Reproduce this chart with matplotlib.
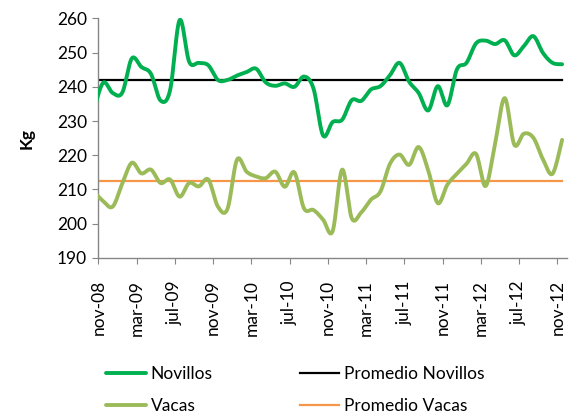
import numpy as np
import matplotlib
matplotlib.use('Agg')
import matplotlib.pyplot as plt
from matplotlib.transforms import ScaledTranslation
from matplotlib import rc
rc('font', family=['Lato', 'DejaVu Sans'])
rc('font', size=12.5)

#---------------data (oct-08 .. nov-12, monthly) ---------------
meses = ['oct-08',
         'nov-08', 'dic-08',
         'ene-09', 'feb-09', 'mar-09', 'abr-09', 'may-09', 'jun-09',
         'jul-09', 'ago-09', 'sep-09', 'oct-09', 'nov-09', 'dic-09',
         'ene-10', 'feb-10', 'mar-10', 'abr-10', 'may-10', 'jun-10',
         'jul-10', 'ago-10', 'sep-10', 'oct-10', 'nov-10', 'dic-10',
         'ene-11', 'feb-11', 'mar-11', 'abr-11', 'may-11', 'jun-11',
         'jul-11', 'ago-11', 'sep-11', 'oct-11', 'nov-11', 'dic-11',
         'ene-12', 'feb-12', 'mar-12', 'abr-12', 'may-12', 'jun-12',
         'jul-12', 'ago-12', 'sep-12', 'oct-12', 'nov-12']

novillos = [233.0,
            241.2, 238.2,
            238.3, 248.3, 245.8, 243.8, 236.0, 239.0,
            259.5, 247.3, 247.0, 246.3, 242.0, 242.0,
            243.3, 244.3, 245.3, 241.3, 240.3, 241.0,
            240.0, 243.0, 239.5, 225.8, 229.7, 230.4,
            236.1, 235.9, 239.2, 240.2, 243.4, 247.0,
            241.5, 238.2, 233.1, 240.2, 234.6, 245.1,
            247.0, 252.7, 253.5, 252.5, 253.6, 249.2,
            251.9, 254.8, 249.9, 247.0, 246.6]

vacas = [209.5,
         206.6, 205.0,
         211.7, 217.8, 214.7, 215.8, 211.9, 212.9,
         207.9, 211.9, 210.9, 212.9, 205.0, 204.3,
         218.7, 215.2, 213.8, 213.3, 215.2, 210.8,
         215.0, 204.5, 204.0, 201.2, 197.8, 215.8,
         201.6, 203.3, 207.0, 209.4, 217.5, 220.2,
         217.2, 222.4, 215.6, 206.0, 211.4, 214.6,
         217.5, 220.4, 211.0, 223.6, 236.7, 223.1,
         226.3, 225.1, 218.8, 214.6, 224.5]

prom_novillos = 242.0
prom_vacas = 212.6

tick_labels = ['nov-08', 'mar-09', 'jul-09', 'nov-09', 'mar-10', 'jul-10',
               'nov-10', 'mar-11', 'jul-11', 'nov-11', 'mar-12', 'jul-12', 'nov-12']

#----colors (excel) ----
c_nov = '#00B050'
c_vac = '#9BBB59'
c_pnov = '#000000'
c_pvac = '#F79646'
c_axis = '#868686'


def smooth(x, y, n=20):
    # catmull-rom, like the excel "smoothed line"
    x = np.asarray(x, float)
    y = np.asarray(y, float)
    px = np.concatenate([[x[0]], x, [x[-1]]])
    py = np.concatenate([[y[0]], y, [y[-1]]])
    t = np.linspace(0, 1, n, endpoint=False)
    xs, ys = [], []
    for k in range(1, len(px) - 2):
        for p, out in ((px, xs), (py, ys)):
            p0, p1, p2, p3 = p[k-1], p[k], p[k+1], p[k+2]
            out.append(0.5*((2*p1) + (-p0+p2)*t + (2*p0-5*p1+4*p2-p3)*t**2
                            + (-p0+3*p1-3*p2+p3)*t**3))
    xs.append([x[-1]])
    ys.append([y[-1]])
    return np.concatenate(xs), np.concatenate(ys)


# month positions: mid-month, nov-08 starts at 0
xpos = np.arange(len(meses)) - 0.5

fig = plt.figure(figsize=(5.82, 4.18), dpi=100)
ax = fig.add_axes([0.169, 0.383, 0.805, 0.573])

sx, sy = smooth(xpos, novillos)
l1, = ax.plot(sx, sy, color=c_nov, lw=2.8, solid_capstyle='round', zorder=3)
sx, sy = smooth(xpos, vacas)
l2, = ax.plot(sx, sy, color=c_vac, lw=2.8, solid_capstyle='round', zorder=3)
l3, = ax.plot(xpos, np.full(len(xpos), prom_novillos), color=c_pnov, lw=1.6, zorder=2)
l4, = ax.plot(xpos, np.full(len(xpos), prom_vacas), color=c_pvac, lw=1.6, zorder=2)

ax.set_xlim(0, 49)
ax.set_ylim(190, 260)
ax.set_yticks(np.arange(190, 261, 10))
ax.set_xticks(np.arange(0, 49, 4))
ax.set_xticklabels(tick_labels, rotation=90, va='top', ha='center')
for lab in ax.get_xticklabels():
    lab.set_transform(lab.get_transform() + ScaledTranslation(0.08, 0, fig.dpi_scale_trans))

for s in ['top', 'right']:
    ax.spines[s].set_visible(False)
for s in ['left', 'bottom']:
    ax.spines[s].set_color(c_axis)
    ax.spines[s].set_linewidth(1.0)
ax.tick_params(axis='y', direction='out', length=4, color=c_axis, pad=4)
ax.tick_params(axis='x', direction='out', length=4, color=c_axis, pad=12)

ax.set_ylabel('Kg', fontweight='bold', labelpad=16)

fig.legend([l1, l2, l3, l4], ['Novillos', 'Vacas', 'Promedio Novillos', 'Promedio Vacas'],
           loc='upper left', bbox_to_anchor=(0.168, 0.146), ncol=2, frameon=False,
           handlelength=2.3, handletextpad=0.25, columnspacing=5.0, labelspacing=0.95,
           borderpad=0)

plt.savefig('out.png', dpi=100)
